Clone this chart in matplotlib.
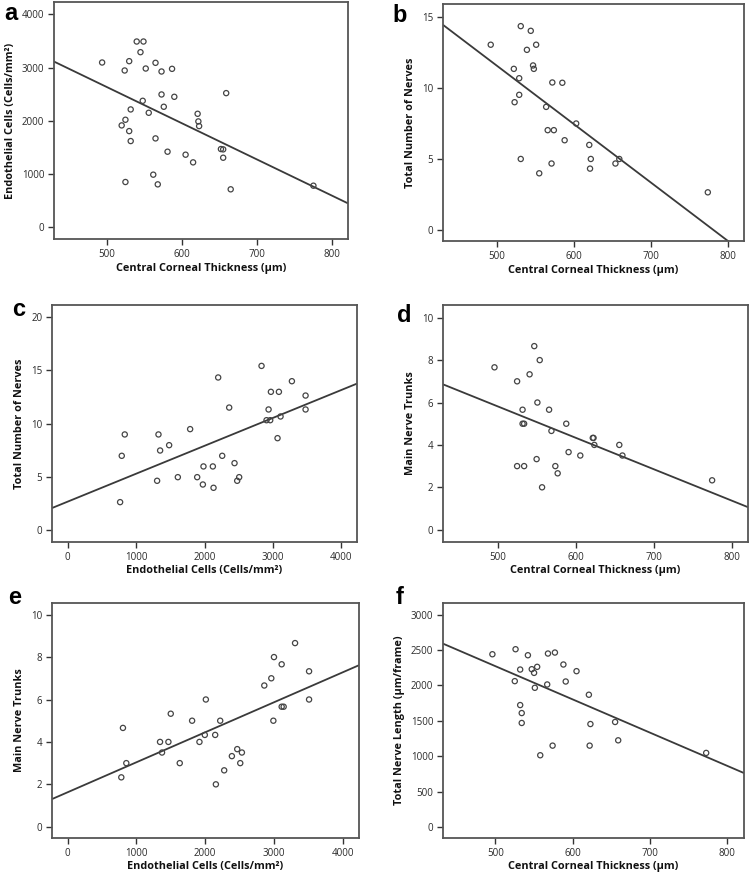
import numpy as np
import matplotlib
matplotlib.use("Agg")
import matplotlib.pyplot as plt

# ---------------- data ----------------
# a: CCT vs endothelial cells
a_cct = [494, 540, 549, 545, 530, 524, 565, 552, 573, 587, 659, 573, 590, 548, 576, 532, 556,
         621, 622, 623, 525, 520, 530, 532, 565, 581, 605, 615, 652, 655, 655, 562, 525, 568, 665, 775]
a_ecd = [3094, 3488, 3488, 3288, 3119, 2944, 3088, 2981, 2925, 2975, 2519, 2494, 2450, 2375, 2263, 2213, 2150,
         2131, 1988, 1900, 2019, 1913, 1806, 1619, 1669, 1419, 1363, 1219, 1469, 1463, 1306, 988, 850, 806, 713, 781]
a_fit = (6040, -6.81)  # intercept, slope

# b: CCT vs total number of nerves
b_cct = [492, 531, 544, 551, 539, 522, 547, 548, 529, 572, 585, 529, 523, 564, 603, 566, 574, 588,
         620, 531, 622, 571, 621, 654, 659, 555, 774]
b_nerves = [13.03, 14.34, 14.01, 13.03, 12.67, 11.33, 11.57, 11.33, 10.67, 10.37, 10.35, 9.50, 8.98, 8.65,
            7.48, 7.01, 7.01, 6.30, 5.97, 4.98, 4.98, 4.66, 4.30, 4.66, 4.98, 3.97, 2.63]
b_fit = (32.12, -0.04114)

# c: endothelial cells vs total number of nerves
c_ecd = [766, 790, 834, 1327, 1351, 1483, 1307, 1610, 1790, 1893, 1976, 1985, 2122, 2132, 2200, 2259,
         2361, 2439, 2478, 2507, 2834, 2937, 2907, 2961, 2971, 3088, 3112, 3068, 3278, 3478, 3478]
c_nerves = [2.60, 6.96, 8.97, 8.97, 7.46, 7.96, 4.61, 4.95, 9.47, 4.95, 4.26, 5.96, 5.96, 3.95, 14.33, 6.96,
            11.50, 6.27, 4.61, 4.95, 15.42, 11.32, 10.31, 10.31, 12.98, 12.98, 10.66, 8.62, 13.98, 12.63, 11.32]
c_fit = (2.65, 0.002625)

# d: CCT vs main nerve trunks
d_cct = [496, 547, 554, 541, 525, 551, 532, 566, 532, 534, 588, 569, 622, 623, 624, 656, 660, 591,
         606, 550, 525, 534, 574, 577, 557, 775]
d_trunks = [7.66, 8.66, 8.00, 7.33, 7.00, 6.00, 5.66, 5.66, 5.00, 5.00, 5.00, 4.66, 4.33, 4.33, 4.00, 4.00,
            3.50, 3.66, 3.50, 3.33, 3.00, 3.00, 3.00, 2.66, 2.00, 2.33]
d_fit = (13.23, -0.01482)

# e: endothelial cells vs main nerve trunks
e_ecd = [779, 803, 852, 1343, 1372, 1465, 1499, 1630, 1810, 1917, 1995, 2010, 2146, 2156, 2219, 2277,
         2389, 2467, 2511, 2535, 2861, 2963, 3002, 2993, 3114, 3114, 3143, 3309, 3513, 3513]
e_trunks = [2.33, 4.66, 3.00, 4.00, 3.50, 4.00, 5.33, 3.00, 5.00, 4.00, 4.33, 6.00, 4.33, 2.00, 5.00, 2.66,
            3.33, 3.66, 3.00, 3.50, 6.66, 7.00, 8.00, 5.00, 7.66, 5.66, 5.66, 8.66, 7.33, 6.00]
e_fit = (1.63, 0.001412)

# f: CCT vs total nerve length
f_cct = [496, 526, 542, 568, 577, 532, 547, 554, 550, 525, 551, 567, 588, 591, 605, 621, 532, 534,
         534, 623, 655, 659, 574, 622, 558, 773]
f_length = [2441, 2512, 2427, 2451, 2465, 2225, 2230, 2263, 2178, 2061, 1967, 2014, 2296, 2056, 2202, 1869,
            1723, 1610, 1470, 1455, 1484, 1225, 1150, 1150, 1014, 1047]
f_fit = (4616, -4.688)

CCT_LABEL = "Central Corneal Thickness (\u00b5m)"
ECD_LABEL = "Endothelial Cells (Cells/mm\u00b2)"

panels = [
    ("a", a_cct, a_ecd, a_fit, CCT_LABEL, ECD_LABEL, (430, 821), (-220, 4230), [500, 600, 700, 800], [0, 1000, 2000, 3000, 4000]),
    ("b", b_cct, b_nerves, b_fit, CCT_LABEL, "Total Number of Nerves", (430, 821), (-0.8, 15.9), [500, 600, 700, 800], [0, 5, 10, 15]),
    ("c", c_ecd, c_nerves, c_fit, ECD_LABEL, "Total Number of Nerves", (-230, 4230), (-1.15, 21.15), [0, 1000, 2000, 3000, 4000], [0, 5, 10, 15, 20]),
    ("d", d_cct, d_trunks, d_fit, CCT_LABEL, "Main Nerve Trunks", (430, 821), (-0.58, 10.6), [500, 600, 700, 800], [0, 2, 4, 6, 8, 10]),
    ("e", e_ecd, e_trunks, e_fit, ECD_LABEL, "Main Nerve Trunks", (-230, 4240), (-0.53, 10.55), [0, 1000, 2000, 3000, 4000], [0, 2, 4, 6, 8, 10]),
    ("f", f_cct, f_length, f_fit, CCT_LABEL, "Total Nerve Length (\u00b5m/frame)", (432, 822), (-155, 3165), [500, 600, 700, 800], [0, 500, 1000, 1500, 2000, 2500, 3000]),
]

plt.rcParams['font.family'] = ['Open Sans', 'DejaVu Sans']

W, H = 750, 877
fig = plt.figure(figsize=(W / 100, H / 100), dpi=100)

# axes boxes in pixel coords: (left, top, right, bottom)
boxes = [
    (54, 2, 348, 239),
    (443, 4, 744, 241),
    (52, 305, 357, 542),
    (443, 305, 748, 542),
    (52, 603, 359, 838),
    (443, 603, 744, 838),
]
letter_pos = [(4, 14), (392, 15), (12, 309), (397, 316), (8, 597), (396, 598)]

frame_col = "#555555"
for (letter, xs, ys, fit, xl, yl, xlim, ylim, xt, yt), (l, t, r, b), (lx, ly) in zip(panels, boxes, letter_pos):
    ax = fig.add_axes([l / W, 1 - b / H, (r - l) / W, (b - t) / H])
    ax.scatter(xs, ys, s=14, facecolors='none', edgecolors='#444444', linewidths=0.9, zorder=3)
    xx = np.array(xlim)
    ax.plot(xx, fit[0] + fit[1] * xx, color='#3a3a3a', lw=1.3, zorder=2, solid_capstyle='butt')
    ax.set_xlim(*xlim)
    ax.set_ylim(*ylim)
    ax.set_xticks(xt)
    ax.set_yticks(yt)
    for sp in ax.spines.values():
        sp.set_color(frame_col)
        sp.set_linewidth(1.3)
    ax.tick_params(direction='out', length=4, width=1.0, color='#333333', labelsize=7,
                   labelcolor='#2a2a2a', pad=3)
    ax.set_xlabel(xl, fontsize=7.8, fontweight='bold', labelpad=2, color='#111111')
    ax.set_ylabel(yl, fontsize=7.8, fontweight='bold', labelpad=4, color='#111111')
    fig.text(lx / W, 1 - ly / H, letter, fontsize=17, fontweight='bold',
             family='Liberation Sans', ha='left', va='center')

fig.savefig("out.png", dpi=100)
